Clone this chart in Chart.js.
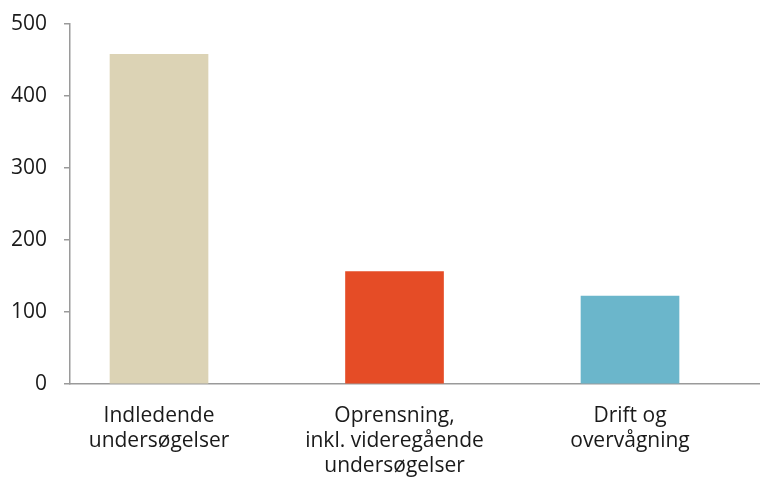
<!DOCTYPE html>
<html>
<head>
<meta charset="utf-8">
<script src="https://cdn.jsdelivr.net/npm/chart.js@4.4.1/dist/chart.umd.min.js"></script>
<style>
  body { margin: 0; background: #fff; }
  #wrap { width: 760px; height: 477px; }
</style>
</head>
<body>
<div id="wrap"><canvas id="values" width="760" height="477"></canvas></div>
<script>
// categories and values
var categories = [
	['Indledende', 'undersøgelser'],
	['Oprensning,', 'inkl. videregående', 'undersøgelser'],
	['Drift og', 'overvågning']
];
var values = [458, 156, 122];
var colors = ['#DCD3B5', '#E54C26', '#6BB6CB'];
var yTicks = [0, 100, 200, 300, 400, 500];

var points = [];
for (var i in values) {
	points.push({x: Number(i), y: values[i]});
}

var axisGrey = '#9a9a9a';
var textCol = '#1a1a1a';
var xMin = -0.378;

var ctx = document.getElementById('values');
var barGraph = new Chart(ctx, {
	type: 'bar',
	data: {
		datasets: [{
			data: points,
			backgroundColor: colors,
			borderWidth: 0,
			barThickness: 98
		}]
	},
	options: {
		responsive: false,
		animation: false,
		layout: { padding: { top: 24, right: 0, bottom: 0, left: 0 } },
		plugins: { legend: { display: false }, tooltip: { enabled: false } },
		scales: {
			x: {
				type: 'linear',
				offset: false,
				min: xMin,
				max: 2.552,
				afterBuildTicks: function(scale) {
					// the first tick only draws the little mark under the y axis
					var t = [{value: xMin}];
					categories.forEach(function(c, idx) { t.push({value: idx}); });
					scale.ticks = t;
				},
				afterFit: function(scale) { scale.height = 93; },
				grid: {
					drawOnChartArea: false,
					tickLength: 8,
					lineWidth: 1.5,
					color: function(c) { return c.index === 0 ? axisGrey : 'rgba(0,0,0,0)'; }
				},
				border: { display: true, color: axisGrey, width: 1.5 },
				ticks: {
					padding: 11,
					maxRotation: 0,
					autoSkip: false,
					color: textCol,
					font: { family: "'Open Sans'", size: 21, lineHeight: 1.2 },
					callback: function(v) { return categories[v] || ''; }
				}
			},
			y: {
				min: 0,
				max: 500,
				afterBuildTicks: function(scale) {
					scale.ticks = yTicks.map(function(v) { return {value: v}; });
				},
				afterFit: function(scale) {
					scale.width = 70;
					scale.paddingTop = 0;
					scale.paddingBottom = 0;
				},
				grid: {
					drawOnChartArea: false,
					tickLength: 6,
					color: axisGrey,
					lineWidth: 1.5
				},
				border: { display: true, color: axisGrey, width: 1.5 },
				ticks: {
					padding: 17,
					color: textCol,
					font: { family: "'Open Sans'", size: 21 }
				}
			}
		}
	}
});
</script>
</body>
</html>
